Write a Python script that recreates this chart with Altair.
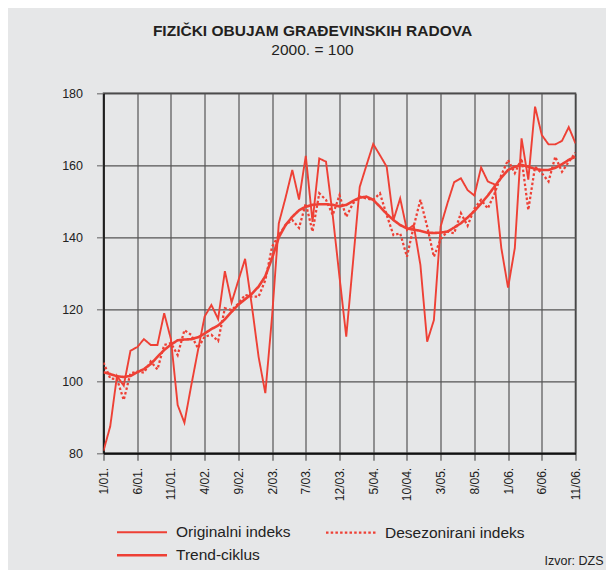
import altair as alt
import pandas as pd

tick_labels = ["1/01.", "6/01.", "11/01.", "4/02.", "9/02.", "2/03.", "7/03.", "12/03.",
               "5/04.", "10/04.", "3/05.", "8/05.", "1/06.", "6/06.", "11/06."]

series_names = ["Originalni indeks", "Desezonirani indeks", "Trend-ciklus"]

original = [80.7, 87.5, 101.5, 98.8, 108.5, 109.5, 111.7, 110.1, 110.1, 118.9,
            111.7, 93.4, 88.5, 98.7, 108.5, 118.0, 121.2, 117.3, 130.6, 121.9,
            128.0, 134.0, 121.0, 106.8, 96.7, 118.0, 143.9, 151.0, 158.7, 150.5,
            162.6, 144.3, 161.9, 161.0, 146.0, 129.0, 112.4, 133.0, 154.0, 160.0,
            165.9, 162.8, 159.6, 144.8, 150.8, 142.0, 143.4, 132.3, 111.0, 117.0,
            143.0, 149.4, 155.3, 156.4, 153.1, 151.6, 159.4, 155.5, 154.7, 137.0,
            126.0, 137.0, 167.5, 156.0, 176.3, 168.4, 165.8, 165.8, 166.8, 170.6,
            166.1]

desezonirani = [105.2, 100.8, 100.6, 94.8, 102.2, 102.7, 102.4, 105.5, 103.3, 110.1,
                110.6, 107.3, 114.2, 112.9, 109.2, 112.4, 112.9, 111.2, 120.3, 119.8,
                121.6, 124.0, 123.5, 123.5, 128.1, 137.4, 140.6, 143.4, 144.8, 142.6,
                149.4, 141.6, 152.2, 150.4, 146.2, 151.7, 145.7, 149.4, 151.3, 150.8,
                150.4, 152.2, 146.2, 140.6, 141.1, 134.6, 143.0, 150.4, 143.0, 134.6,
                139.5, 141.6, 141.1, 146.7, 143.2, 148.0, 150.4, 148.0, 152.2, 157.3,
                161.5, 157.8, 161.9, 147.6, 159.6, 157.8, 155.5, 162.4, 158.2, 161.0,
                163.5]

trend = [102.5, 102.0, 101.4, 101.2, 101.5, 102.5, 103.4, 104.8, 106.8, 108.7,
         110.2, 111.4, 111.6, 111.7, 112.2, 113.3, 114.5, 115.5, 117.2, 119.3,
         121.3, 122.8, 124.3, 126.3, 129.2, 134.2, 140.0, 143.4, 145.7, 147.5,
         148.5, 149.0, 149.2, 149.2, 149.0, 148.6, 149.0, 150.1, 151.0, 151.3,
         150.4, 148.5, 146.5, 144.8, 143.4, 142.5, 142.1, 141.8, 141.3, 141.2,
         141.3, 141.6, 142.7, 143.9, 145.5, 147.3, 149.4, 151.6, 154.1, 156.6,
         158.7, 159.6, 160.1, 159.6, 159.0, 158.7, 158.7, 159.3, 160.3, 161.5,
         162.4]

rows = []
for k, (name, vals) in enumerate(zip(series_names, [original, desezonirani, trend])):
    for i, v in enumerate(vals):
        rows.append({"m": i, "v": v, "s": name, "k": k})
df = pd.DataFrame(rows)

RED = "#ee4035"
FONT = "Liberation Sans"
label_expr = "[" + ",".join("'" + t + "'" for t in tick_labels) + "][round(datum.value/5)]"

lines = alt.Chart(df).mark_line(clip=True, strokeCap="butt").encode(
    x=alt.X("m:Q",
            scale=alt.Scale(domain=[0, 70], nice=False, zero=False),
            axis=alt.Axis(values=list(range(0, 71, 5)), labelExpr=label_expr,
                          labelAngle=270, title=None, grid=True,
                          gridColor="#555555", gridWidth=1.2,
                          domainColor="#111111", domainWidth=2,
                          tickColor="#555555", tickSize=7, tickWidth=1.2,
                          labelPadding=7, labelFontSize=12, labelFont=FONT,
                          labelColor="#222222")),
    y=alt.Y("v:Q",
            scale=alt.Scale(domain=[80, 180], nice=False, zero=False),
            axis=alt.Axis(values=[80, 100, 120, 140, 160, 180], title=None, grid=True,
                          gridColor="#555555", gridWidth=1.2,
                          domainColor="#111111", domainWidth=1.5,
                          tickColor="#777777", tickSize=7, tickWidth=1.2,
                          labelPadding=14, labelFontSize=12.5, labelFont=FONT,
                          labelColor="#222222")),
    color=alt.Color("s:N",
                    scale=alt.Scale(domain=series_names, range=[RED, RED, RED]),
                    legend=alt.Legend(title=None, orient="none", legendX=12, legendY=425,
                                      direction="horizontal",
                                      columns=2, symbolType="M-1,0H3", symbolSize=625,
                                      labelFontSize=15.5, labelFont=FONT,
                                      labelColor="#222222", labelOffset=32.5,
                                      columnPadding=30, rowPadding=0,
                                      labelLimit=300)),
    strokeDash=alt.StrokeDash("s:N",
                              scale=alt.Scale(domain=series_names,
                                              range=[[1, 0], [2.5, 2.2], [1, 0]])),
    strokeWidth=alt.StrokeWidth("s:N",
                                scale=alt.Scale(domain=series_names,
                                                range=[1.9, 2.6, 5])),
    order=alt.Order("m:Q"),
)

note = alt.Chart(pd.DataFrame({"t": ["Izvor: DZS"]})).mark_text(
    align="right", baseline="middle", font=FONT, fontSize=12.5, color="#222222"
).encode(text="t:N", x=alt.value(500), y=alt.value(468))

chart = alt.layer(lines, note).properties(
    width=472,
    height=360,
    title=alt.TitleParams(text="FIZIČKI OBUJAM GRAĐEVINSKIH RADOVA",
                          subtitle="2000. = 100",
                          font=FONT, fontSize=15.5, fontWeight="bold", color="#231f20",
                          subtitleFont=FONT, subtitleFontSize=15.5,
                          subtitleColor="#231f20", subtitlePadding=3,
                          anchor="middle", dx=-27, offset=29),
    padding={"left": 95.5, "top": 85.3, "right": 30.5, "bottom": 116.7},
    autosize=alt.AutoSizeParams(type="none"),
).configure(background="#e6e7e8").configure_view(stroke="#333333", strokeWidth=1.5)

chart.save("out.html", embed_options={"renderer": "svg", "actions": False})
